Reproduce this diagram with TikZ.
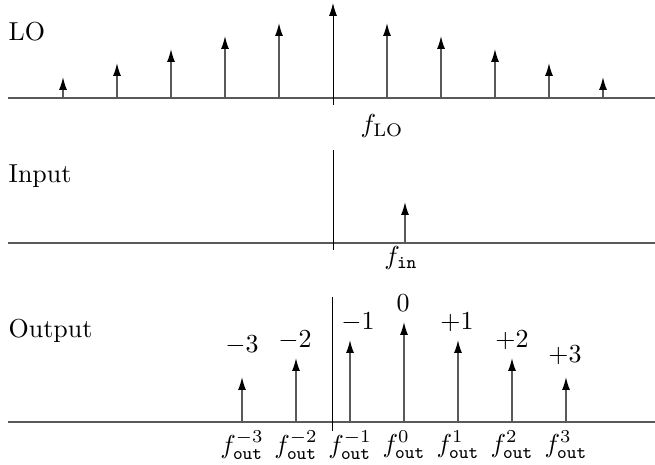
\documentclass[tikz,border=0pt]{standalone}
\usetikzlibrary{arrows.meta}
\begin{document}
\begin{tikzpicture}[x=0.385pt,y=-0.385pt,line width=0.5pt,
  >={Latex[length=5pt,width=3.1pt,color=black]},
  axis/.style={black!65,line width=0.6pt},
  line/.style={->,black!65,line width=0.55pt},
  lab/.style={inner sep=0pt}]
\useasboundingbox (0,0) rectangle (655,465);
% ---- LO spectrum ----
\node[lab,anchor=west] (lo) at (8,32) {LO};
\draw[axis] (8,98) -- (655,98);
\draw[->,line width=0.35pt] (333,105) -- (333,3);
\foreach \k/\h in {1/75,2/62,3/49,4/35,5/21}{
  \draw[line] (333-54*\k,98) -- ++(0,-\h);
  \draw[line] (333+54*\k,98) -- ++(0,-\h);
}
\node[lab] (flo) at (382,126) {$f_{\mathrm{LO}}$};
% ---- input ----
\node[lab,anchor=west] (input) at (8,176) {Input};
\draw[axis] (8,243) -- (655,243);
\draw[line width=0.35pt] (333,150) -- (333,250);
\draw[line] (405,243) -- (405,202);
\node[lab] (fin) at (401,258) {$f_{\mathtt{in}}$};
% ---- output ----
\node[lab,anchor=west] (output) at (8,331) {Output};
\draw[axis] (8,422) -- (655,422);
\draw[line width=0.35pt] (332,297) -- (332,431);
\foreach \k/\h/\n/\lx/\ly in {-3/45/-3/242/345,-2/64/-2/295/340,-1/82/-1/358/322,
    0/100/0/403/303,1/82/+1/457/322,2/64/+2/512/340,3/45/+3/565/355}{
  \draw[line] (404+54*\k,422) -- ++(0,-\h);
  \node[lab] (ord\k) at (\lx,\ly) {$\n$};
  \node[lab] (fout\k) at (404+54*\k,445) {$f_{\mathtt{out}}^{\k}$};
}
\end{tikzpicture}
\end{document}
